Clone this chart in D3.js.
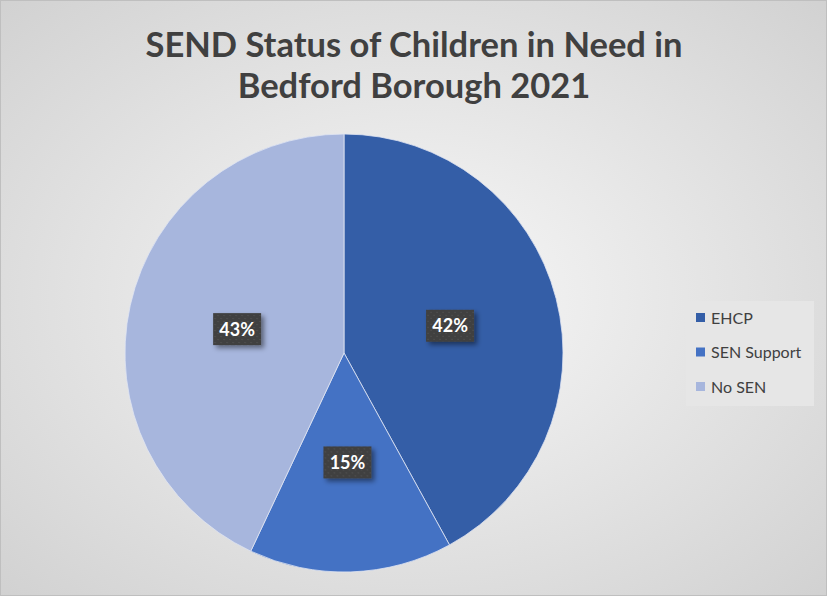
<!DOCTYPE html>
<html>
<head>
<meta charset="utf-8">
<script src="https://cdn.jsdelivr.net/npm/d3@7"></script>
<style>
  body { margin: 0; }
  svg { display: block; }
</style>
</head>
<body>
<script>
//chart data
var categories = ["EHCP", "SEN Support", "No SEN"];
var values = [42, 15, 43];
var colors = ["#345ea7", "#4472c4", "#a7b6dd"];
var titleLines = ["SEND Status of Children in Need in", "Bedford Borough 2021"];

window.onload = drawChart();

function drawChart(){

    var width = 827,
        height = 596;

    var svg = d3.select("body")
        .append("svg")
        .attr("width", width)
        .attr("height", height);

    var defs = svg.append("defs");

    //radial background like the office chart
    var bg = defs.append("radialGradient")
        .attr("id", "bg")
        .attr("cx", "50%").attr("cy", "50%").attr("r", "75%");
    bg.append("stop").attr("offset", "0%").attr("stop-color", "#f8f8f8");
    bg.append("stop").attr("offset", "100%").attr("stop-color", "#cfcfcf");

    //dotted texture for data label boxes
    var pat = defs.append("pattern")
        .attr("id", "dots")
        .attr("width", 6).attr("height", 6)
        .attr("patternUnits", "userSpaceOnUse");
    pat.append("rect").attr("width", 6).attr("height", 6).attr("fill", "#404040");
    pat.append("rect").attr("x", 1).attr("y", 1).attr("width", 2).attr("height", 1).attr("fill", "#4e4e4e");
    pat.append("rect").attr("x", 4).attr("y", 4).attr("width", 2).attr("height", 1).attr("fill", "#4e4e4e");

    var shadow = defs.append("filter")
        .attr("id", "shadow")
        .attr("x", "-30%").attr("y", "-30%").attr("width", "160%").attr("height", "160%");
    shadow.append("feDropShadow")
        .attr("dx", 3).attr("dy", 3).attr("stdDeviation", 2.5)
        .attr("flood-color", "#000").attr("flood-opacity", 0.45);

    svg.append("rect")
        .attr("x", 0.5).attr("y", 0.5)
        .attr("width", width - 1).attr("height", height - 1)
        .attr("fill", "url(#bg)")
        .attr("stroke", "#bfbfbf");

    //title
    svg.selectAll(".title")
        .data(titleLines)
        .enter()
        .append("text")
        .attr("class", "title")
        .attr("x", 414)
        .attr("y", function(d, i){ return 57 + i * 41; })
        .attr("text-anchor", "middle")
        .style("font-family", "Lato, 'Open Sans', sans-serif")
        .style("font-weight", "bold")
        .style("font-size", "34.5px")
        .style("fill", "#404040")
        .text(function(d){ return d; });

    //pie
    var cx = 344, cy = 353, radius = 219;

    var pie = d3.pie().sort(null).value(function(d){ return d; });
    var arc = d3.arc().innerRadius(0).outerRadius(radius);
    var arcs = pie(values);

    var g = svg.append("g")
        .attr("transform", "translate(" + cx + "," + cy + ")");

    g.selectAll(".slice")
        .data(arcs)
        .enter()
        .append("path")
        .attr("class", "slice")
        .attr("d", arc)
        .attr("fill", function(d, i){ return colors[i]; })
        .attr("stroke", "#dfe5f2")
        .attr("stroke-width", 0.8);

    //data labels
    var labels = g.selectAll(".lbl")
        .data(arcs)
        .enter()
        .append("g")
        .attr("class", "lbl")
        .attr("transform", function(d){
            var c = arc.centroid(d);
            return "translate(" + c[0] + "," + c[1] + ")";
        });

    labels.append("rect")
        .attr("x", -24).attr("y", -16)
        .attr("width", 48).attr("height", 32)
        .attr("fill", "url(#dots)")
        .attr("filter", "url(#shadow)");

    labels.append("text")
        .attr("text-anchor", "middle")
        .attr("y", 6.5)
        .style("font-family", "Lato, 'Open Sans', sans-serif")
        .style("font-weight", "bold")
        .style("font-size", "18px")
        .style("fill", "#ffffff")
        .text(function(d){ return d.data + "%"; });

    //legend
    svg.append("rect")
        .attr("x", 686).attr("y", 301)
        .attr("width", 128).attr("height", 105)
        .attr("fill", "#e6e6e6");

    var legend = svg.selectAll(".legend")
        .data(categories)
        .enter()
        .append("g")
        .attr("class", "legend")
        .attr("transform", function(d, i){ return "translate(696," + (318 + i * 34.5) + ")"; });

    legend.append("rect")
        .attr("x", 0).attr("y", -5)
        .attr("width", 9).attr("height", 9)
        .attr("fill", function(d, i){ return colors[i]; });

    legend.append("text")
        .attr("x", 15).attr("y", 5.5)
        .style("font-family", "Lato, 'Open Sans', sans-serif")
        .style("font-size", "16px")
        .style("fill", "#404040")
        .text(function(d){ return d; });
};
</script>
</body>
</html>
